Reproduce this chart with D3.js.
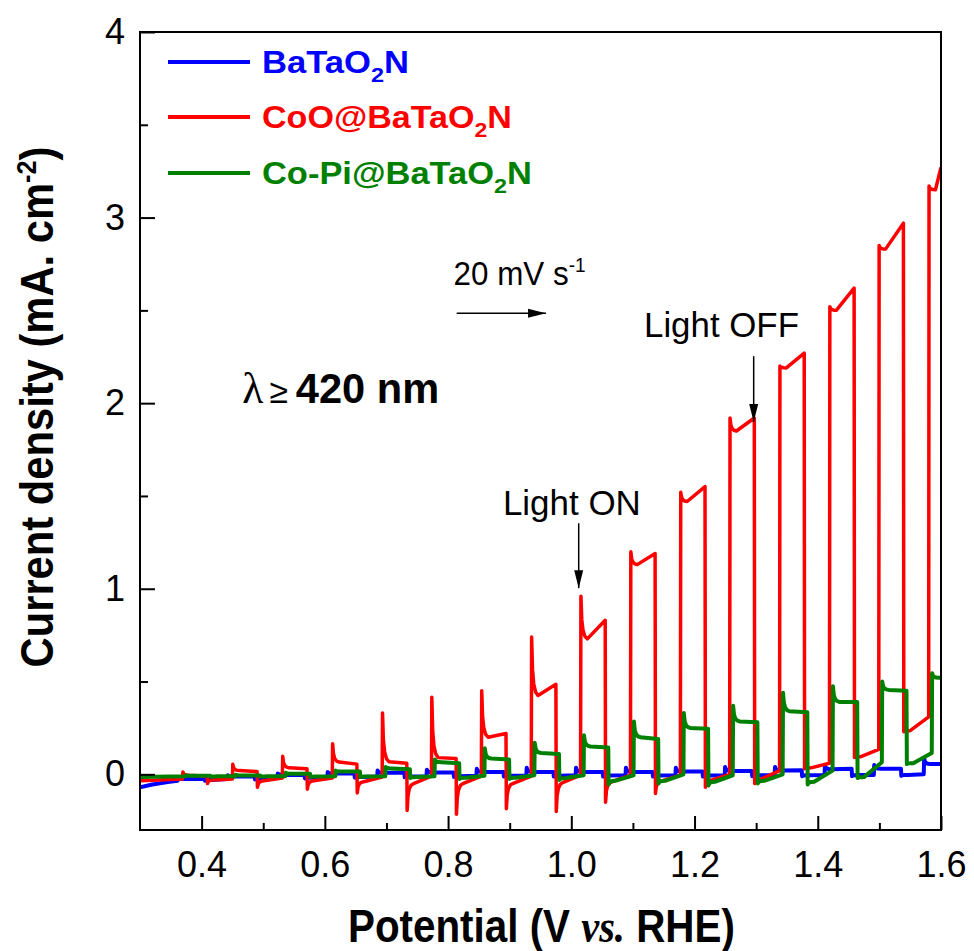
<!DOCTYPE html>
<html>
<head>
<meta charset="utf-8">
<script src="https://cdn.jsdelivr.net/npm/d3@7"></script>
<style>
body { margin: 0; background: #fff; }
svg { display: block; }
text { font-family: "Liberation Sans", Arial, sans-serif; }
</style>
</head>
<body>
<div id="chart"></div>
<script>
//axis setup
var xDomain = [0.3, 1.6];
var yDomain = [-0.3, 4];
var xMajor = [0.4, 0.6, 0.8, 1.0, 1.2, 1.4, 1.6];
var xMinor = [0.5, 0.7, 0.9, 1.1, 1.3, 1.5];
var yMajor = [0, 1, 2, 3, 4];
var yMinor = [0.5, 1.5, 2.5, 3.5];

//chopped light: switch on / off potentials (V vs RHE)
var lightOn  = [0.369, 0.450, 0.531, 0.612, 0.693, 0.773, 0.854, 0.935, 1.015, 1.096, 1.177, 1.257, 1.338, 1.419, 1.499, 1.580];
var lightOff = [0.409, 0.490, 0.571, 0.652, 0.733, 0.813, 0.894, 0.975, 1.055, 1.136, 1.217, 1.297, 1.378, 1.459, 1.539];

//CoO@BaTaO2N (mA cm-2) per light cycle
var redLead  = [[0.3, -0.035]];
var redDark  = [-0.025, -0.025, -0.02, -0.02, -0.015, -0.01, -0.01, -0.01, -0.005, -0.005, -0.005, 0.0, 0.02, 0.06, 0.135, 0.31];
var redPeak  = [0.012, 0.054, 0.097, 0.165, 0.33, 0.415, 0.45, 0.74, 0.96, 1.2, 1.52, 1.92, 2.2, 2.52, 2.85, 3.17];
var redStart = [-0.005, 0.02, 0.035, 0.066, 0.068, 0.09, 0.2, 0.425, 0.73, 1.13, 1.47, 1.85, 2.19, 2.5, 2.83, 3.15];
var redEnd   = [-0.01, 0.015, 0.03, 0.055, 0.06, 0.085, 0.22, 0.485, 0.83, 1.19, 1.55, 1.92, 2.27, 2.62, 2.97, 3.27];
var redDip   = [-0.05, -0.07, -0.08, -0.1, -0.195, -0.215, -0.185, -0.2, -0.15, -0.103, -0.07, -0.05, 0.03, 0.09, 0.23];
var redRec   = [-0.03, -0.035, -0.035, -0.04, -0.05, -0.05, -0.05, -0.045, -0.04, -0.035, -0.03, -0.025, 0.035, 0.095, 0.235];

//Co-Pi@BaTaO2N
var greenLead  = [[0.3, -0.015]];
var greenDark  = [-0.01, -0.01, -0.01, -0.01, -0.01, -0.01, -0.008, -0.005, -0.005, -0.005, 0.0, -0.005, 0.0, 0.02, 0.065, 0.115];
var greenPeak  = [-0.005, -0.003, 0.008, 0.02, 0.04, 0.08, 0.14, 0.17, 0.21, 0.285, 0.33, 0.37, 0.44, 0.475, 0.5, 0.545];
var greenStart = [-0.008, -0.006, 0.003, 0.015, 0.032, 0.065, 0.085, 0.115, 0.15, 0.2, 0.25, 0.285, 0.34, 0.39, 0.455, 0.52];
var greenEnd   = [-0.008, -0.006, 0.003, 0.015, 0.028, 0.06, 0.08, 0.11, 0.145, 0.19, 0.245, 0.28, 0.335, 0.39, 0.45, 0.52];
var greenDip   = [-0.012, -0.012, -0.015, -0.015, -0.02, -0.025, -0.025, -0.03, -0.055, -0.05, -0.06, -0.05, -0.055, -0.02, 0.055];
var greenRec   = [-0.011, -0.011, -0.012, -0.012, -0.015, -0.018, -0.018, -0.02, -0.035, -0.035, -0.04, -0.035, -0.04, -0.015, 0.06];

//BaTaO2N
var blueLead  = [[0.3, -0.07], [0.32, -0.055], [0.345, -0.042]];
var blueDark  = [-0.035, -0.025, -0.02, -0.015, -0.012, -0.01, -0.008, -0.006, -0.005, -0.005, -0.005, -0.005, -0.004, -0.003, -0.003, 0.0];
var bluePeak  = [-0.02, -0.005, 0.005, 0.012, 0.02, 0.025, 0.03, 0.035, 0.035, 0.035, 0.035, 0.04, 0.04, 0.045, 0.05, 0.085];
var blueStart = [-0.025, -0.012, -0.003, 0.004, 0.008, 0.01, 0.012, 0.013, 0.013, 0.013, 0.015, 0.018, 0.02, 0.028, 0.03, 0.055];
var blueEnd   = [-0.024, -0.012, -0.003, 0.004, 0.008, 0.01, 0.012, 0.013, 0.013, 0.013, 0.015, 0.018, 0.022, 0.03, 0.03, 0.055];
var blueDip   = [-0.035, -0.028, -0.022, -0.018, -0.016, -0.014, -0.012, -0.012, -0.012, -0.012, -0.012, -0.01, -0.01, -0.01, -0.008];
var blueRec   = [-0.03, -0.024, -0.018, -0.014, -0.012, -0.01, -0.008, -0.007, -0.006, -0.006, -0.006, -0.005, -0.005, -0.004, -0.003];

//transient shape after each switch: [dV, fraction of overshoot left]
var spikeShape = [[0.002, 0.45], [0.004, 0.2], [0.007, 0.06], [0.011, 0]];

var width = 974, height = 951;
var margin = { top: 32, right: 33, bottom: 121, left: 140 };
var pw = width - margin.left - margin.right;
var ph = height - margin.top - margin.bottom;

var svg = d3.select('#chart').append('svg')
	.attr('width', width)
	.attr('height', height);

var defs = svg.append('defs');
defs.append('clipPath').attr('id', 'plotclip')
	.append('rect').attr('width', pw).attr('height', ph);
defs.append('marker')
	.attr('id', 'arrowhead')
	.attr('markerUnits', 'userSpaceOnUse')
	.attr('viewBox', '0 0 18 10')
	.attr('refX', 18).attr('refY', 5)
	.attr('markerWidth', 18).attr('markerHeight', 10)
	.attr('orient', 'auto')
  .append('path')
	.attr('d', 'M0,0.5 L18,5 L0,9.5 Z')
	.attr('fill', '#000');

var plot = svg.append('g')
	.attr('transform', 'translate(' + margin.left + ',' + margin.top + ')');

var xScale = d3.scaleLinear().domain(xDomain).range([0, pw]);
var yScale = d3.scaleLinear().domain(yDomain).range([ph, 0]);

//build the chopped trace of one sample
function buildTrace(lead, lagOn, lagOff, dark, peak, start, end, dip, rec) {
	var pts = lead.slice();
	lightOn.forEach(function(t0, k) {
		var t = t0 + lagOn;
		var over = peak[k] - start[k];
		pts.push([t, dark[k]]);
		pts.push([t + 0.0006, peak[k]]);
		spikeShape.forEach(function(s) { pts.push([t + s[0], start[k] + over * s[1]]); });
		if (k < lightOff.length) {
			var u = lightOff[k] + lagOff;
			var under = dip[k] - rec[k];
			pts.push([u, end[k]]);
			pts.push([u + 0.0006, dip[k]]);
			spikeShape.forEach(function(s) { pts.push([u + s[0], rec[k] + under * s[1]]); });
		} else {
			pts.push([xDomain[1], end[k]]);
		}
	});
	return pts;
}

var series = [
	{ label: 'BaTaO', color: '#0000ff', width: 4, pts: buildTrace(blueLead, -0.008, -0.004, blueDark, bluePeak, blueStart, blueEnd, blueDip, blueRec) },
	{ label: 'CoO@BaTaO', color: '#ff0000', width: 3.5, pts: buildTrace(redLead, 0, 0, redDark, redPeak, redStart, redEnd, redDip, redRec) },
	{ label: 'Co-Pi@BaTaO', color: '#008000', width: 4, pts: buildTrace(greenLead, 0.005, 0.005, greenDark, greenPeak, greenStart, greenEnd, greenDip, greenRec) }
];

var line = d3.line()
	.x(function(d) { return xScale(d[0]); })
	.y(function(d) { return yScale(d[1]); });

var chart = plot.append('g').attr('clip-path', 'url(#plotclip)');
chart.selectAll('.trace')
	.data(series)
	.enter().append('path')
	.attr('class', 'trace')
	.attr('d', function(d) { return line(d.pts); })
	.style('fill', 'none')
	.style('stroke', function(d) { return d.color; })
	.style('stroke-width', function(d) { return d.width; })
	.style('stroke-linejoin', 'round');

//axes, ticks pointing inward
function styleAxis(g) {
	g.select('.domain').remove();
	g.selectAll('line').attr('stroke', '#000').attr('stroke-width', 2);
	g.selectAll('text').style('font-size', '36px').attr('fill', '#000');
}

plot.append('g')
	.attr('transform', 'translate(0,' + ph + ')')
	.call(d3.axisBottom(xScale).tickValues(xMajor).tickSize(-14).tickPadding(21).tickFormat(d3.format('.1f')))
	.call(styleAxis);
plot.append('g')
	.attr('transform', 'translate(0,' + ph + ')')
	.call(d3.axisBottom(xScale).tickValues(xMinor).tickSize(-7).tickFormat(''))
	.call(styleAxis);
plot.append('g')
	.call(d3.axisLeft(yScale).tickValues(yMajor).tickSize(-15).tickPadding(15).tickFormat(d3.format('d')))
	.call(styleAxis);
plot.append('g')
	.call(d3.axisLeft(yScale).tickValues(yMinor).tickSize(-8).tickFormat(''))
	.call(styleAxis);

plot.append('rect')
	.attr('width', pw).attr('height', ph)
	.style('fill', 'none')
	.style('stroke', '#000')
	.style('stroke-width', 2);

//squeeze text horizontally to the width of the original lettering
function fitWidth(sel, w) {
	var bb = sel.node().getBBox();
	var s = w / bb.width;
	var cx = +sel.attr('x') || 0;
	sel.attr('transform', 'translate(' + cx + ',0) scale(' + s + ',1) translate(' + (-cx) + ',0)');
}

//axis titles
var xt = svg.append('text')
	.attr('x', 348).attr('y', 942)
	.style('font-size', '46px').style('font-weight', 'bold');
xt.append('tspan').text('Potential (V ');
xt.append('tspan').text('vs.')
	.style('font-family', '"Liberation Serif", "Times New Roman", serif')
	.style('font-style', 'italic');
xt.append('tspan').text(' RHE)');
fitWidth(xt, 387);

var ytg = svg.append('g').attr('transform', 'translate(53,407) rotate(-90)');
var yt = ytg.append('text')
	.attr('x', 0).attr('y', 0)
	.attr('text-anchor', 'middle')
	.style('font-size', '46px').style('font-weight', 'bold');
yt.append('tspan').text('Current density (mA. cm');
yt.append('tspan').text('-2').attr('dy', -17).style('font-size', '28px');
yt.append('tspan').text(')').attr('dy', 17);
fitWidth(yt, 521);

//legend
var legend = svg.append('g');
var legendY = [62, 117, 173];
var legendW = [147, 250, 270];
series.forEach(function(s, i) {
	legend.append('line')
		.attr('x1', 168).attr('x2', 250)
		.attr('y1', legendY[i]).attr('y2', legendY[i])
		.style('stroke', s.color)
		.style('stroke-width', 4);
	var t = legend.append('text')
		.attr('x', 262).attr('y', legendY[i] + 11)
		.style('font-size', '31px').style('font-weight', 'bold')
		.attr('fill', s.color);
	t.append('tspan').text(s.label);
	t.append('tspan').text('2').attr('dy', 9).style('font-size', '21px');
	t.append('tspan').text('N').attr('dy', -9);
	fitWidth(t, legendW[i]);
});

//annotations
var notes = plot.append('g');

var scan = notes.append('text')
	.attr('x', xScale(0.809)).attr('y', yScale(2.636))
	.style('font-size', '33px');
scan.append('tspan').text('20 mV s');
scan.append('tspan').text('-1').attr('dy', -13).style('font-size', '20px');
fitWidth(scan, 132);

notes.append('line')
	.attr('x1', xScale(0.814)).attr('x2', xScale(0.959))
	.attr('y1', yScale(2.485)).attr('y2', yScale(2.485))
	.style('stroke', '#000').style('stroke-width', 1.5)
	.attr('marker-end', 'url(#arrowhead)');

var lam = notes.append('text')
	.attr('x', xScale(0.466)).attr('y', yScale(2.0));
lam.append('tspan').text('\u03bb')
	.style('font-family', '"Liberation Serif", "Times New Roman", serif')
	.style('font-size', '44px');
lam.append('tspan').text('\u2265').attr('dx', 6)
	.style('font-size', '34px');
lam.append('tspan').text('420 nm').attr('dx', 8)
	.style('font-size', '42px').style('font-weight', 'bold');
fitWidth(lam, 197);

var lightNotes = [
	{ text: 'Light ON',  tx: 0.889, ty: 1.396, w: 138, ax: 1.012, a1: 1.353, a2: 1.003 },
	{ text: 'Light OFF', tx: 1.118, ty: 2.356, w: 155, ax: 1.296, a1: 2.253, a2: 1.898 }
];
lightNotes.forEach(function(n) {
	var t = notes.append('text')
		.attr('x', xScale(n.tx)).attr('y', yScale(n.ty))
		.style('font-size', '36px')
		.text(n.text);
	fitWidth(t, n.w);
	notes.append('line')
		.attr('x1', xScale(n.ax)).attr('x2', xScale(n.ax))
		.attr('y1', yScale(n.a1)).attr('y2', yScale(n.a2))
		.style('stroke', '#000').style('stroke-width', 1.5)
		.attr('marker-end', 'url(#arrowhead)');
});
</script>
</body>
</html>
